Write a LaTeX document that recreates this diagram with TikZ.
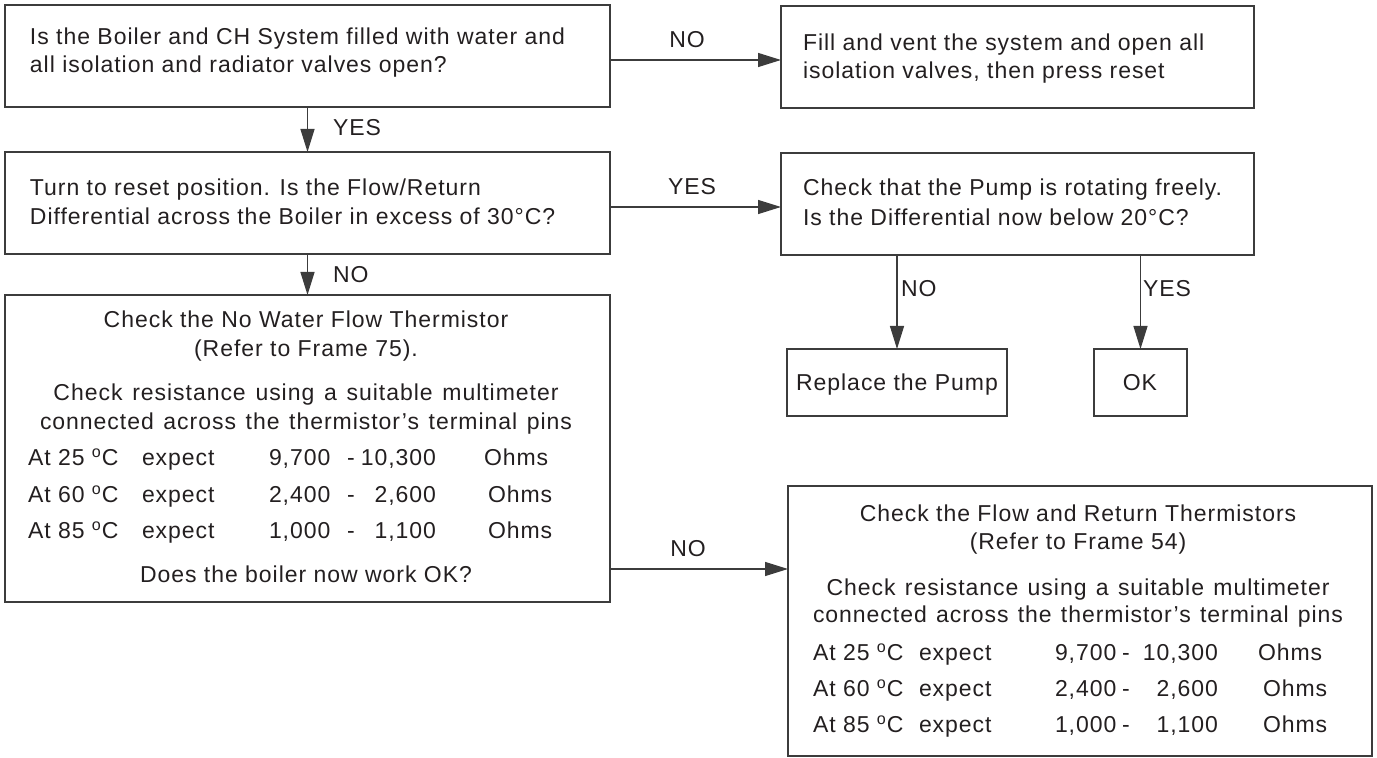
\documentclass[tikz,border=0pt]{standalone}
\usepackage{fontspec}
\setmainfont{Liberation Sans}[LetterSpace=4.2]
\usetikzlibrary{arrows.meta,fit}
\definecolor{tc}{RGB}{35,31,32}
\definecolor{lc}{RGB}{60,60,60}
\newcommand\mainsz{\fontsize{11.5pt}{13pt}\selectfont}
\newcommand\thermrow[6]{%
  \node[txt,anchor=base west] (#1a) at (\cA,#2) {At #3 \textsuperscript{o}C};
  \node[txt,anchor=base west] (#1b) at (\cB,#2) {expect};
  \node[txt,anchor=base west] (#1c) at (\cC,#2) {#4};
  \node[txt,anchor=base west] (#1d) at (\cD,#2) {-};
  \node[txt,anchor=base east] (#1e) at (\cE,#2) {#5};
  \node[txt,anchor=base west] (#1f) at (#6,#2) {Ohms};}
\begin{document}
\begin{tikzpicture}[x=0.5pt,y=-0.5pt,
  box/.style={draw=lc, line width=0.65pt, inner sep=0pt, outer sep=0pt, rectangle},
  txt/.style={inner sep=0pt, outer sep=0pt, text=tc, font=\mainsz},
  arr/.style={draw=lc, line width=0.65pt, -{Triangle[length=11.5pt,width=7pt]}},
]
\useasboundingbox (0,0) rectangle (1377,758);

% boxes
\node[box, fit={(5,5) (610,107)}] (q1) {};
\node[box, fit={(781,6) (1254,108)}] (fill) {};
\node[box, fit={(5,152) (610,254)}] (q2) {};
\node[box, fit={(781,153) (1254,255)}] (pump) {};
\node[box, fit={(787,349) (1007,416)}] (rep) {};
\node[box, fit={(1094,349) (1187,416)}] (ok) {};
\node[box, fit={(5,295) (610,602)}] (q3) {};
\node[box, fit={(788,486) (1372,756)}] (chk) {};

% texts
\node[txt,anchor=base west] (q1a) at (30,45) {Is the Boiler and CH System filled with water and};
\node[txt,anchor=base west] (q1b) at (30,73) {all isolation and radiator valves open?};
\node[txt,anchor=base west] (fa) at (803,51) {Fill and vent the system and open all};
\node[txt,anchor=base west] (fb) at (803,79) {isolation valves, then press reset};
\node[txt,anchor=base west] (q2a) at (30,196) {Turn to reset position. Is the Flow/Return};
\node[txt,anchor=base west] (q2b) at (30,225) {Differential across the Boiler in excess of 30°C?};
\node[txt,anchor=base west] (pa) at (803,196) {Check that the Pump is rotating freely.};
\node[txt,anchor=base west] (pb) at (803,226) {Is the Differential now below 20°C?};
\node[txt,anchor=base] (rept) at (897,391) {Replace the Pump};
\node[txt,anchor=base] (okt) at (1140,391) {OK};

\node[txt,anchor=base] (q3a) at (306,328) {Check the No Water Flow Thermistor};
\node[txt,anchor=base] (q3b) at (306,357) {(Refer to Frame 75).};
\node[txt,anchor=base] (q3c) at (306,401) {\makebox[252.5pt][s]{Check resistance using a suitable multimeter}};
\node[txt,anchor=base] (q3d) at (306,430) {\makebox[266pt][s]{connected across the thermistor’s terminal pins}};
\def\cA{28}\def\cB{142}\def\cC{269}\def\cD{347}\def\cE{436}
\thermrow{r1}{466}{25}{9,700}{10,300}{484}
\thermrow{r2}{503}{60}{2,400}{2,600}{488}
\thermrow{r3}{539}{85}{1,000}{1,100}{488}
\node[txt,anchor=base] (q3e) at (306,583) {Does the boiler now work OK?};

\node[txt,anchor=base] (c1) at (1078,522) {Check the Flow and Return Thermistors};
\node[txt,anchor=base] (c2) at (1078,550) {(Refer to Frame 54)};
\node[txt,anchor=base] (c3) at (1078,596) {\makebox[251.5pt][s]{Check resistance using a suitable multimeter}};
\node[txt,anchor=base] (c4) at (1078,623) {\makebox[265pt][s]{connected across the thermistor’s terminal pins}};
\def\cA{813}\def\cB{919}\def\cC{1055}\def\cD{1122}\def\cE{1218}
\thermrow{s1}{661}{25}{9,700}{10,300}{1258}
\thermrow{s2}{697}{60}{2,400}{2,600}{1263}
\thermrow{s3}{733}{85}{1,000}{1,100}{1263}

% labels
\node[txt,anchor=base] (l1) at (687,48) {NO};
\node[txt,anchor=base] (l2) at (692,195) {YES};
\node[txt,anchor=base west] (l3) at (333,136) {YES};
\node[txt,anchor=base west] (l4) at (333,283) {NO};
\node[txt,anchor=base west] (l5) at (901,297) {NO};
\node[txt,anchor=base west] (l6) at (1143,297) {YES};
\node[txt,anchor=base] (l7) at (688,557) {NO};

% connectors
\coordinate (y1) at (700,60);
\coordinate (y2) at (700,207);
\coordinate (y3) at (700,569);
\draw[arr] (q1.east |- y1) -- (fill.west |- y1);
\draw[arr] (q2.east |- y2) -- (pump.west |- y2);
\draw[arr] (q3.east |- y3) -- (chk.west |- y3);
\draw[arr] (q1.south) -- (q2.north);
\draw[arr] (q2.south) -- (q3.north);
\draw[arr] (rep.north |- pump.south) -- (rep.north);
\draw[arr] (ok.north |- pump.south) -- (ok.north);
\end{tikzpicture}
\end{document}
